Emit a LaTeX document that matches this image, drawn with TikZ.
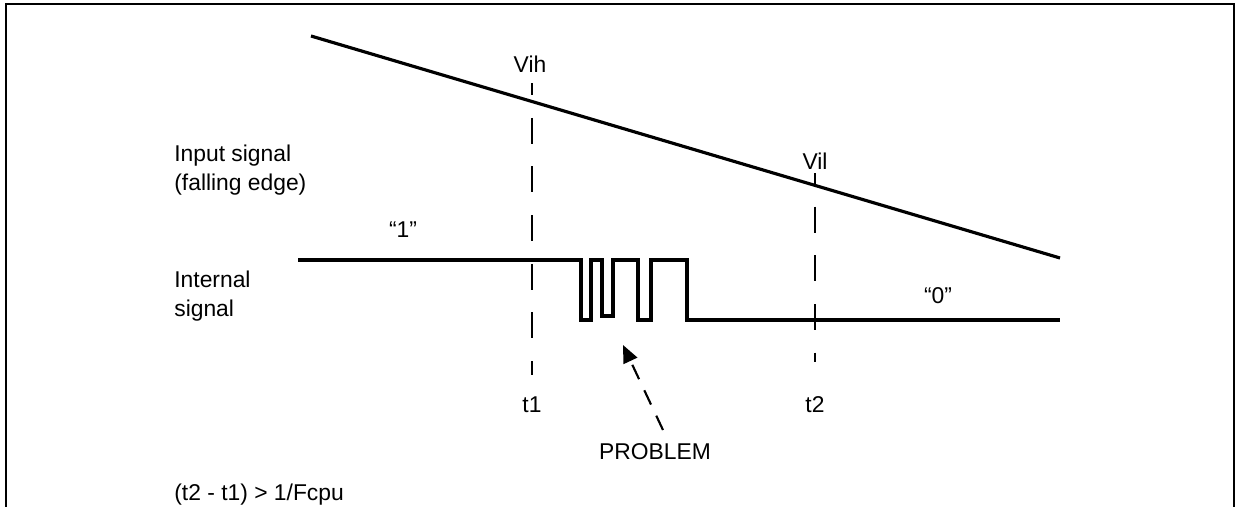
\documentclass[tikz,border=0pt]{standalone}
\usepackage{fontspec}
\setmainfont{Liberation Sans}
\usepackage{tikz}
\usetikzlibrary{arrows.meta,positioning,calc}

\begin{document}
\begin{tikzpicture}[x=0.02cm, y=-0.02cm, font=\fontsize{13}{14}\selectfont,
  frm/.style={line width=1.6pt},
  sig/.style={line width=1.8pt, line join=miter},
  lvl/.style={line width=2.3pt, line join=miter},
  mk/.style={line width=1.4pt, dash pattern=on 14.7pt off 13pt},
  lbl/.style={inner sep=0pt, anchor=base},
  side/.style={inner sep=0pt, anchor=base west, align=left},
  arr/.style={-{Triangle[length=10pt,width=8.5pt]}, line width=1.2pt, dash pattern=on 9pt off 7pt}]
\useasboundingbox (0,0) rectangle (1242,507);
% open frame
\draw[frm] (6,507) -- (6,4) -- (1234,4) -- (1234,507);
% input ramp
\coordinate (rampa) at (311,36);
\coordinate (rampb) at (1060,258);
\draw[sig] (rampa) -- (rampb);
% thresholds
\node[lbl] (vih) at (530,72) {Vih};
\node[lbl] (vil) at (815,169) {Vil};
\node[lbl] (t1) at (532,412) {t1};
\node[lbl] (t2) at (815,412) {t2};
\draw[mk, dash phase=7.9pt] (532,83) -- (532,375);
\draw[mk, dash phase=8.5pt] (815,173) -- (815,362);
% internal signal with glitches
\draw[lvl] (298,260) -- (581,260) -- (581,320) -- (591,320) -- (591,260) -- (602,260)
  -- (602,316) -- (613,316) -- (613,260) -- (638,260) -- (638,320) -- (651,320)
  -- (651,260) -- (687,260) -- (687,320) -- (1060,320);
\node[lbl] (one) at (403,237) {“1”};
\node[lbl] (zero) at (938,303) {“0”};
% side labels
\node[side] (input) at (174,190) {Input signal\\[2.2pt](falling edge)};
\node[side] (internal) at (174,316) {Internal\\[2.2pt]signal};
\node[side] (cond) at (174,500) {(t2 - t1) > 1/Fcpu};
% problem pointer
\node[lbl] (prob) at (655,459) {PROBLEM};
\coordinate (tail) at (663,430);
\coordinate (tip) at (623,345);
\draw[arr] (tail) -- (tip);
\end{tikzpicture}
\end{document}
